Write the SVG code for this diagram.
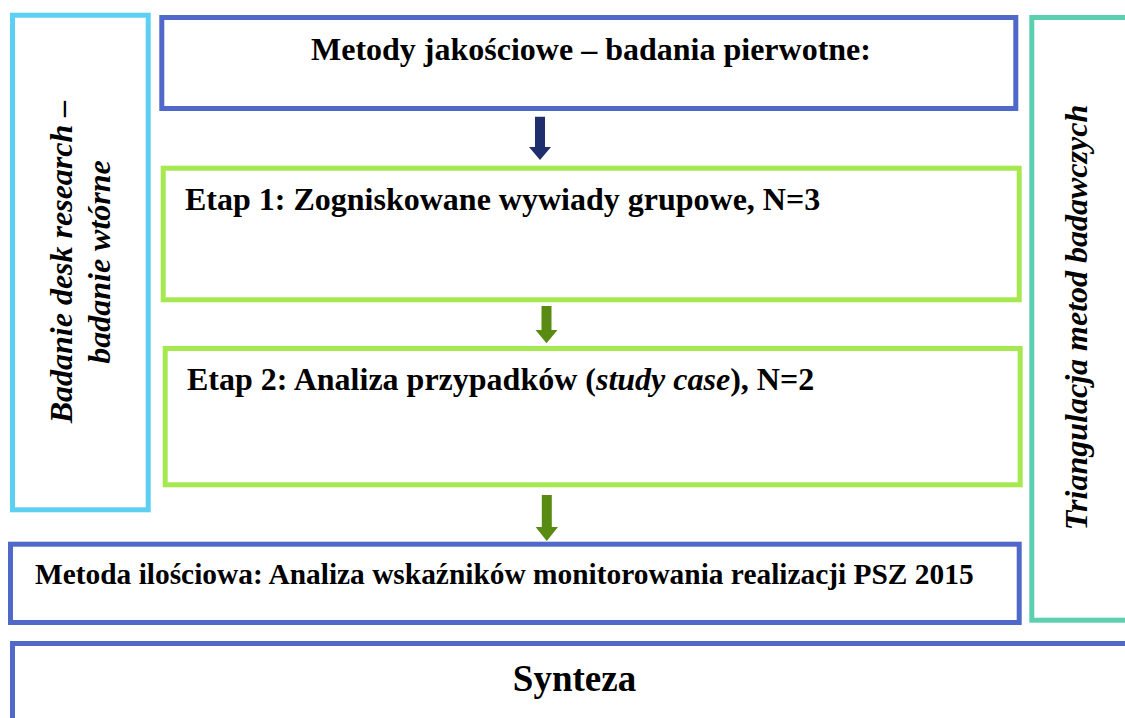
<svg xmlns="http://www.w3.org/2000/svg" width="1125" height="718" viewBox="0 0 1125 718">
  <style>
    .box { fill: #ffffff; stroke-width: 5; }
    .blue { stroke: #5068C9; }
    .green { stroke: #A6E84F; }
    .cyan { stroke: #5CCFF3; }
    .teal { stroke: #5CCFB0; }
    .t { font-family: 'Liberation Serif', 'DejaVu Serif', serif; font-weight: bold; fill: #000000; }
    .it { font-style: italic; }
    .navy { fill: #1F2F6E; }
    .olive { fill: #598B13; }
  </style>
  <rect x="0" y="0" width="1125" height="718" fill="#ffffff"/>

  <g id="node-desk">
    <rect class="box cyan" x="12.5" y="15.2" width="135.7" height="494.6"/>
    <g transform="translate(72,262) rotate(-90)">
      <text class="t it" font-family="Liberation Serif, DejaVu Serif, serif" x="0" y="0" font-size="32" text-anchor="middle">Badanie desk research –</text>
    </g>
    <g transform="translate(110,262) rotate(-90)">
      <text class="t it" font-family="Liberation Serif, DejaVu Serif, serif" x="0" y="0" font-size="32" text-anchor="middle">badanie wtórne</text>
    </g>
  </g>

  <g id="node-triangulacja">
    <rect class="box teal" x="1031.8" y="17.5" width="110" height="602.7"/>
    <g transform="translate(1087,317.5) rotate(-90)">
      <text class="t it" font-family="Liberation Serif, DejaVu Serif, serif" x="0" y="0" font-size="32" text-anchor="middle">Triangulacja metod badawczych</text>
    </g>
  </g>

  <g id="node-jakosciowe">
    <rect class="box blue" x="161.8" y="17.5" width="854" height="91"/>
    <text class="t" font-family="Liberation Serif, DejaVu Serif, serif" x="311" y="60" font-size="32">Metody jakościowe – badania pierwotne:</text>
  </g>

  <g id="node-etap1">
    <rect class="box green" x="163.2" y="168.2" width="856" height="131.6"/>
    <text class="t" font-family="Liberation Serif, DejaVu Serif, serif" x="185" y="210" font-size="32">Etap 1: Zogniskowane wywiady grupowe, N=3</text>
  </g>

  <g id="node-etap2">
    <rect class="box green" x="165.2" y="348.5" width="855" height="136.3"/>
    <text class="t" font-family="Liberation Serif, DejaVu Serif, serif" x="187" y="390" font-size="32">Etap 2: Analiza przypadków (<tspan class="it">study case</tspan>), N=2</text>
  </g>

  <g id="node-ilosciowa">
    <rect class="box blue" x="10.5" y="544.2" width="1008.7" height="78.3"/>
    <text class="t" font-family="Liberation Serif, DejaVu Serif, serif" x="35" y="584" font-size="29.4">Metoda ilościowa: Analiza wskaźników monitorowania realizacji PSZ 2015</text>
  </g>

  <g id="node-synteza">
    <rect class="box blue" x="12.5" y="643.5" width="1130" height="100"/>
    <text class="t" font-family="Liberation Serif, DejaVu Serif, serif" x="574.5" y="691" font-size="37" text-anchor="middle">Synteza</text>
  </g>

  <g id="connectors">
    <polygon class="navy" points="535,116.7 545,116.7 545,147 551,147 540,160 529,147 535,147"/>
    <polygon class="olive" points="541.5,306 551.5,306 551.5,330 557.5,330 546.5,343.3 535.5,330 541.5,330"/>
    <polygon class="olive" points="541.8,495 551.8,495 551.8,527 558,527 546.8,541 535.6,527 541.8,527"/>
  </g>
</svg>
